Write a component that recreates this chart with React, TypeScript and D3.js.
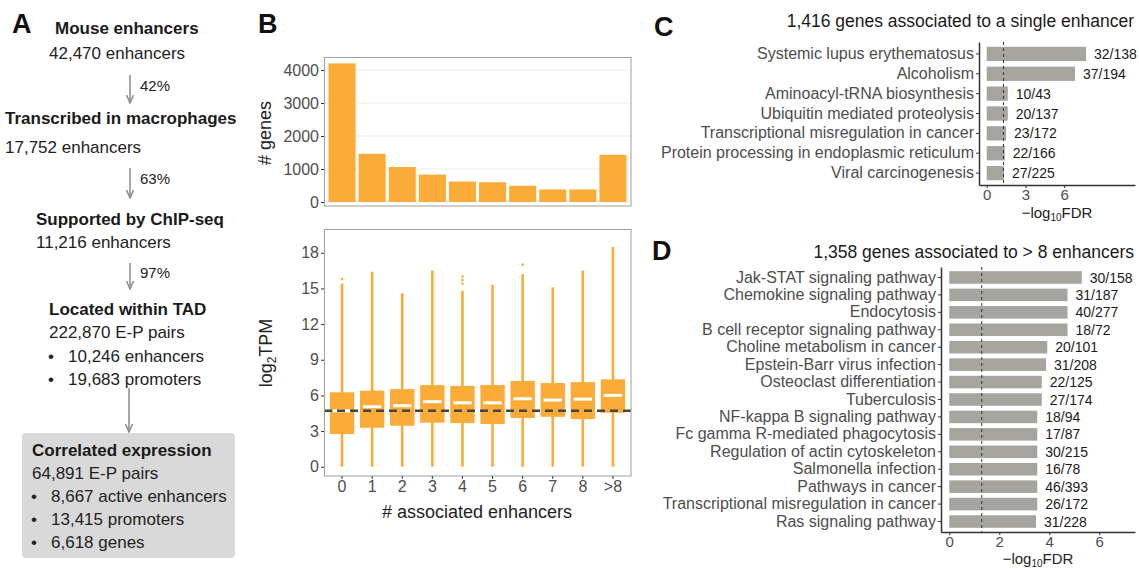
import React, { useEffect, useRef } from "react";
import * as d3 from "d3";

// ---- panel A : filtering flow ----
const flowTitles = ["Mouse enhancers", "Transcribed in macrophages", "Supported by ChIP-seq", "Located within TAD", "Correlated expression"];
const flowCounts = ["42,470 enhancers", "17,752 enhancers", "11,216 enhancers", "222,870 E-P pairs", "64,891 E-P pairs"];
const flowPercents = ["42%", "63%", "97%"];
const tadBullets = ["10,246 enhancers", "19,683 promoters"];
const corrBullets = ["8,667 active enhancers", "13,415 promoters", "6,618 genes"];

// ---- panel B : genes per enhancer count ----
const enhancerBins = ["0", "1", "2", "3", "4", "5", "6", "7", "8", ">8"];
const geneCounts = [4200, 1460, 1060, 830, 620, 600, 490, 380, 380, 1430];
const histTicks = [0, 1000, 2000, 3000, 4000];

const tpmLow = [0, 0, 0, 0, 0, 0, 0, 0, 0, 0];
const tpmQ1 = [2.75, 3.28, 3.45, 3.7, 3.67, 3.59, 4.1, 4.2, 4.01, 4.54];
const tpmMedian = [4.7, 5.05, 5.13, 5.47, 5.38, 5.38, 5.72, 5.61, 5.69, 6.0];
const tpmQ3 = [6.26, 6.4, 6.53, 6.87, 6.8, 6.87, 7.21, 7.04, 7.12, 7.35];
const tpmHigh = [15.4, 16.4, 14.6, 16.5, 14.8, 15.3, 16.2, 15.1, 16.5, 18.5];
const tpmOutliers = [[15.8], [], [], [], [15.4, 15.7, 16.0], [], [17.0], [], [], []];
const tpmOverallMedian = 4.7;
const tpmTicks = [0, 3, 6, 9, 12, 15, 18];

// ---- panel C : single enhancer genes ----
const singleTerms = [
  "Systemic lupus erythematosus",
  "Alcoholism",
  "Aminoacyl-tRNA biosynthesis",
  "Ubiquitin mediated proteolysis",
  "Transcriptional misregulation in cancer",
  "Protein processing in endoplasmic reticulum",
  "Viral carcinogenesis",
];
const singleFdr = [7.7, 6.85, 1.63, 1.63, 1.5, 1.4, 1.34];
const singleCounts = ["32/138", "37/194", "10/43", "20/137", "23/172", "22/166", "27/225"];
const singleTicks = [0, 3, 6];

// ---- panel D : genes with > 8 enhancers ----
const multiTerms = [
  "Jak-STAT signaling pathway",
  "Chemokine signaling pathway",
  "Endocytosis",
  "B cell receptor signaling pathway",
  "Choline metabolism in cancer",
  "Epstein-Barr virus infection",
  "Osteoclast differentiation",
  "Tuberculosis",
  "NF-kappa B signaling pathway",
  "Fc gamma R-mediated phagocytosis",
  "Regulation of actin cytoskeleton",
  "Salmonella infection",
  "Pathways in cancer",
  "Transcriptional misregulation in cancer",
  "Ras signaling pathway",
];
const multiFdr = [5.3, 4.73, 4.73, 4.73, 3.92, 3.87, 3.7, 3.7, 3.52, 3.52, 3.52, 3.52, 3.52, 3.52, 3.47];
const multiCounts = ["30/158", "31/187", "40/277", "18/72", "20/101", "31/208", "22/125", "27/174", "18/94", "17/87", "30/215", "16/78", "46/393", "26/172", "31/228"];
const multiTicks = [0, 2, 4, 6];

const fdrCutoff = 1.3; // -log10(0.05)

const FONT = "Liberation Sans, Arial, Helvetica, sans-serif";
const ORANGE = "#fbac38";
const BAR_GRAY = "#a5a49f";
const AXIS_TEXT = "#4d4d4d";

export default function App() {
  const ref = useRef<SVGSVGElement>(null);

  useEffect(() => {
    const svg = d3.select(ref.current);
    svg.selectAll("*").remove();
    svg.attr("font-family", FONT);

    const txt = (x: number, y: number, t: string, size = 17, weight = "normal", fill = "#222") =>
      svg.append("text").attr("x", x).attr("y", y).attr("font-size", size)
        .attr("font-weight", weight).attr("fill", fill).text(t);

    // panel letters
    txt(12, 33, "A", 27, "bold", "#111");
    txt(258, 33, "B", 27, "bold", "#111");
    txt(654, 36, "C", 27, "bold", "#111");
    txt(652, 260, "D", 27, "bold", "#111");

    //----------- panel A -----------
    const arrow = (x: number, y1: number, y2: number) => {
      svg.append("line").attr("x1", x).attr("x2", x).attr("y1", y1).attr("y2", y2)
        .attr("stroke", "#8a8a8a").attr("stroke-width", 1.5);
      svg.append("path").attr("d", `M${x - 3.5},${y2 - 8}L${x},${y2}L${x + 3.5},${y2 - 8}`)
        .attr("fill", "none").attr("stroke", "#8a8a8a").attr("stroke-width", 1.5);
    };

    txt(55, 34, flowTitles[0], 17, "bold", "#1a1a1a");
    txt(49, 59, flowCounts[0]);
    arrow(130, 75, 103);
    txt(140, 91, flowPercents[0], 15);

    txt(5, 124, flowTitles[1], 17, "bold", "#1a1a1a");
    txt(5, 153, flowCounts[1]);
    arrow(130, 168, 198);
    txt(140, 184, flowPercents[1], 15);

    txt(36, 225, flowTitles[2], 17, "bold", "#1a1a1a");
    txt(36, 248, flowCounts[2]);
    arrow(130, 263, 289);
    txt(140, 278, flowPercents[2], 15);

    txt(49, 315, flowTitles[3], 17, "bold", "#1a1a1a");
    txt(49, 338, flowCounts[3]);
    tadBullets.forEach((b, i) => {
      txt(48, 362 + i * 23, "\u2022");
      txt(68, 362 + i * 23, b);
    });
    arrow(129, 388, 432);

    svg.append("rect").attr("x", 22).attr("y", 433).attr("width", 213).attr("height", 125)
      .attr("rx", 4).attr("fill", "#d9d9d9");
    txt(32, 456, flowTitles[4], 17, "bold", "#1a1a1a");
    txt(32, 479, flowCounts[4]);
    corrBullets.forEach((b, i) => {
      txt(31, 502 + i * 23, "\u2022");
      txt(51, 502 + i * 23, b);
    });

    //----------- panel B -----------
    const styleAxis = (g: any, size: number) => {
      g.attr("font-family", FONT).attr("font-size", size);
      g.selectAll("text").attr("fill", AXIS_TEXT);
      g.selectAll(".tick line").attr("stroke", "#333");
    };

    const xB = d3.scaleBand().domain(enhancerBins).range([324, 631]).paddingInner(0.1).paddingOuter(0.15);
    const yHist = d3.scaleLinear().domain([-121, 4394]).range([206, 57]);

    svg.append("g").selectAll("line").data(histTicks).join("line")
      .attr("x1", 324).attr("x2", 631)
      .attr("y1", d => yHist(d)).attr("y2", d => yHist(d))
      .attr("stroke", "#ebebeb").attr("stroke-width", 1);

    svg.append("g").selectAll("rect").data(geneCounts).join("rect")
      .attr("x", (d, i) => xB(enhancerBins[i])!)
      .attr("width", xB.bandwidth())
      .attr("y", d => yHist(d))
      .attr("height", d => yHist(0) - yHist(d))
      .attr("fill", ORANGE);

    svg.append("rect").attr("x", 324.5).attr("y", 57.5).attr("width", 306.5).attr("height", 148.5)
      .attr("fill", "none").attr("stroke", "#9e9e9e");

    const histAxis = svg.append("g").attr("transform", "translate(324,0)")
      .call(d3.axisLeft(yHist).tickValues(histTicks).tickFormat(d3.format("d"))
        .tickSize(3).tickPadding(2).tickSizeOuter(0));
    histAxis.select(".domain").remove();
    styleAxis(histAxis, 16);

    svg.append("text").attr("transform", "translate(271,133) rotate(-90)")
      .attr("text-anchor", "middle").attr("font-size", 18).attr("fill", "#222").text("# genes");

    // boxplots
    const yBox = d3.scaleLinear().domain([-0.78, 20]).range([476, 229]);
    const boxW = xB.bandwidth() * 0.9;
    const cx = (i: number) => xB(enhancerBins[i])! + xB.bandwidth() / 2;

    const boxes = svg.append("g");
    enhancerBins.forEach((b, i) => {
      boxes.append("line").attr("x1", cx(i)).attr("x2", cx(i))
        .attr("y1", yBox(tpmLow[i])).attr("y2", yBox(tpmHigh[i]))
        .attr("stroke", ORANGE).attr("stroke-width", 2.6);
      boxes.append("rect").attr("x", cx(i) - boxW / 2).attr("width", boxW)
        .attr("y", yBox(tpmQ3[i])).attr("height", yBox(tpmQ1[i]) - yBox(tpmQ3[i]))
        .attr("fill", ORANGE);
      boxes.append("line").attr("x1", cx(i) - boxW / 2 + 3).attr("x2", cx(i) + boxW / 2 - 3)
        .attr("y1", yBox(tpmMedian[i])).attr("y2", yBox(tpmMedian[i]))
        .attr("stroke", "#fff").attr("stroke-width", 3);
      boxes.selectAll(null).data(tpmOutliers[i]).join("circle")
        .attr("cx", cx(i)).attr("cy", d => yBox(d)).attr("r", 1.3).attr("fill", ORANGE);
    });

    svg.append("line").attr("x1", 324).attr("x2", 631)
      .attr("y1", yBox(tpmOverallMedian)).attr("y2", yBox(tpmOverallMedian))
      .attr("stroke", "#444").attr("stroke-width", 2.5).attr("stroke-dasharray", "8,5");

    svg.append("rect").attr("x", 324.5).attr("y", 229.5).attr("width", 306.5).attr("height", 246.5)
      .attr("fill", "none").attr("stroke", "#9e9e9e");

    const boxY = svg.append("g").attr("transform", "translate(324,0)")
      .call(d3.axisLeft(yBox).tickValues(tpmTicks).tickSize(3).tickPadding(2).tickSizeOuter(0));
    boxY.select(".domain").remove();
    styleAxis(boxY, 16);

    const boxX = svg.append("g").attr("transform", "translate(0,476)")
      .call(d3.axisBottom(xB).tickSize(3).tickPadding(2).tickSizeOuter(0));
    boxX.select(".domain").remove();
    styleAxis(boxX, 16);

    const tpmLabel = svg.append("text").attr("transform", "translate(272,353) rotate(-90)")
      .attr("text-anchor", "middle").attr("font-size", 18).attr("fill", "#222");
    tpmLabel.append("tspan").text("log");
    tpmLabel.append("tspan").attr("font-size", 12).attr("dy", 4).text("2");
    tpmLabel.append("tspan").attr("dy", -4).text("TPM");

    svg.append("text").attr("x", 477).attr("y", 518).attr("text-anchor", "middle")
      .attr("font-size", 18).attr("fill", "#222").text("# associated enhancers");

    //----------- panels C & D -----------
    const drawEnrich = (terms: string[], fdr: number[], counts: string[], ticks: number[],
      left: number, top: number, bottom: number, xDomain: [number, number],
      title: string, titleY: number, xTitleY: number) => {
      const y = d3.scaleBand().domain(terms).range([top, bottom]).paddingInner(0.28).paddingOuter(0.24);
      const x = d3.scaleLinear().domain(xDomain).range([left, 1135]);
      const g = svg.append("g");

      g.selectAll("rect").data(fdr).join("rect")
        .attr("x", x(0)).attr("width", d => x(d) - x(0))
        .attr("y", (d, i) => y(terms[i])!).attr("height", y.bandwidth())
        .attr("fill", BAR_GRAY);

      g.append("line").attr("x1", x(fdrCutoff)).attr("x2", x(fdrCutoff))
        .attr("y1", top).attr("y2", bottom)
        .attr("stroke", "#333").attr("stroke-width", 1).attr("stroke-dasharray", "3,3");

      g.selectAll(".count").data(counts).join("text").attr("class", "count")
        .attr("x", (d, i) => x(fdr[i]) + 8)
        .attr("y", (d, i) => y(terms[i])! + y.bandwidth() / 2)
        .attr("dy", "0.36em").attr("font-size", 14).attr("fill", "#1a1a1a")
        .text(d => d);

      const ya = svg.append("g").attr("transform", `translate(${left},0)`)
        .call(d3.axisLeft(y).tickSize(3).tickPadding(2).tickSizeOuter(0));
      styleAxis(ya, 16);
      ya.select(".domain").attr("stroke", "#333").attr("stroke-width", 1.5);

      const xa = svg.append("g").attr("transform", `translate(0,${bottom})`)
        .call(d3.axisBottom(x).tickValues(ticks).tickSize(3).tickPadding(1).tickSizeOuter(0));
      styleAxis(xa, 15);
      xa.select(".domain").attr("stroke", "#333").attr("stroke-width", 1.5);

      svg.append("text").attr("x", 1134).attr("y", titleY).attr("text-anchor", "end")
        .attr("font-size", 17.5).attr("fill", "#1a1a1a").text(title);

      const xt = svg.append("text").attr("x", (left + 1135) / 2).attr("y", xTitleY)
        .attr("text-anchor", "middle").attr("font-size", 15).attr("fill", "#222");
      xt.append("tspan").text("\u2212log");
      xt.append("tspan").attr("font-size", 10).attr("dy", 2.5).text("10");
      xt.append("tspan").attr("dy", -2.5).text("FDR");
    };

    drawEnrich(singleTerms, singleFdr, singleCounts, singleTicks, 979, 42, 185, [-0.6, 11.5],
      "1,416 genes associated to a single enhancer", 27, 218);
    drawEnrich(multiTerms, multiFdr, multiCounts, multiTicks, 941, 267, 532, [-0.33, 7.43],
      "1,358 genes associated to > 8 enhancers", 258, 564);
  }, []);

  return (
    <div className="canvas">
      <svg ref={ref} width={1139} height={569}
        style={{ position: "absolute", left: 0, top: 0, background: "#fff" }} />
    </div>
  );
}
